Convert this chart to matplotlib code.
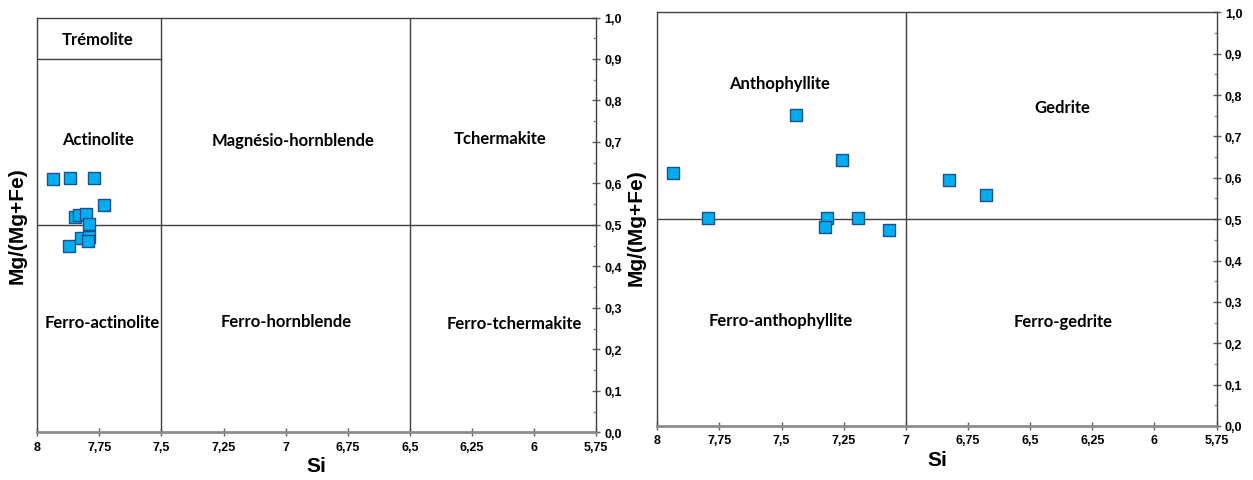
import matplotlib
matplotlib.use('Agg')
import matplotlib.pyplot as plt
from matplotlib.ticker import FixedLocator, MultipleLocator, FuncFormatter

# calcic amphiboles (left diagram)
ca_si = [7.937, 7.867, 7.772, 7.731, 7.849, 7.832, 7.803, 7.793, 7.874, 7.825, 7.792, 7.795]
ca_mg = [0.611, 0.614, 0.612, 0.547, 0.520, 0.524, 0.526, 0.502, 0.450, 0.468, 0.470, 0.462]

# Fe-Mg amphiboles (right diagram)
femg_si = [7.938, 7.443, 7.795, 7.258, 7.316, 7.324, 7.194, 7.066, 6.826, 6.677]
femg_mg = [0.612, 0.752, 0.503, 0.644, 0.502, 0.480, 0.503, 0.474, 0.595, 0.558]

x_ticks = [8, 7.75, 7.5, 7.25, 7, 6.75, 6.5, 6.25, 6, 5.75]

ca_fields = [('Trémolite', 7.756, 0.948), ('Actinolite', 7.756, 0.707),
             ('Magnésio-hornblende', 6.970, 0.704), ('Tchermakite', 6.137, 0.709),
             ('Ferro-actinolite', 7.739, 0.266), ('Ferro-hornblende', 6.998, 0.268),
             ('Ferro-tchermakite', 6.077, 0.263)]
femg_fields = [('Anthophyllite', 7.510, 0.829), ('Gedrite', 6.371, 0.771),
               ('Ferro-anthophyllite', 7.502, 0.256), ('Ferro-gedrite', 6.367, 0.254)]

LINE = '#404040'
TICKFONT = dict(family=['Liberation Sans Narrow', 'Liberation Sans', 'DejaVu Sans'],
                weight='bold', size=9)


def comma(v, pos=None):
    s = f"{v:.2f}".rstrip('0').rstrip('.')
    return s.replace('.', ',')


def setup_axes(ax):
    ax.set_xlim(8, 5.75)
    ax.set_ylim(0, 1)
    ax.xaxis.set_major_locator(FixedLocator(x_ticks))
    ax.xaxis.set_major_formatter(FuncFormatter(comma))
    ax.yaxis.set_major_locator(MultipleLocator(0.1))
    ax.yaxis.set_minor_locator(MultipleLocator(0.05))
    ax.yaxis.set_major_formatter(FuncFormatter(lambda v, p: f"{v:.1f}".replace('.', ',')))
    ax.yaxis.tick_right()
    ax.tick_params(axis='both', which='major', direction='inout', length=6,
                   width=1, color='#606060', pad=3)
    ax.tick_params(axis='y', which='minor', direction='in', length=2.5,
                   width=1, color='#909090')
    for lab in ax.get_xticklabels() + ax.get_yticklabels():
        lab.set(**TICKFONT)
    for side in ['top', 'left', 'right']:
        ax.spines[side].set_color(LINE)
        ax.spines[side].set_linewidth(1)
    ax.spines['bottom'].set_color('#8c8c8c')
    ax.spines['bottom'].set_linewidth(2)
    ax.set_xlabel('Si', fontsize=15, family='Liberation Sans', weight='bold')
    ax.xaxis.set_label_coords(0.5, -0.058)


def draw_fields(ax, fields):
    for name, x, y in fields:
        ax.text(x, y, name, ha='center', va='center', fontsize=12,
                family=['Lato', 'DejaVu Sans'], weight='bold')


def draw_points(ax, xs, ys):
    ax.scatter(xs, ys, marker='s', s=72, facecolor='#00AEEF',
               edgecolor='#1F4E8C', linewidth=1, zorder=5)


def main():
    fig = plt.figure(figsize=(12.53, 4.81), dpi=100)
    W, H = 1253, 481

    ax1 = fig.add_axes([37.3 / W, 1 - 433.3 / H, (596 - 37.3) / W, (433.3 - 18.5) / H])
    ax2 = fig.add_axes([657.3 / W, 1 - 427 / H, (1216.5 - 657.3) / W, (427 - 13.3) / H])

    # calcic amphibole fields
    setup_axes(ax1)
    ax1.axvline(7.5, color=LINE, lw=1)
    ax1.axvline(6.5, color=LINE, lw=1)
    ax1.axhline(0.5, color=LINE, lw=1)
    ax1.plot([8, 7.5], [0.9, 0.9], color=LINE, lw=1)
    draw_fields(ax1, ca_fields)
    draw_points(ax1, ca_si, ca_mg)

    # Fe-Mg amphibole fields
    setup_axes(ax2)
    ax2.axvline(7, color=LINE, lw=1)
    ax2.axhline(0.5, color=LINE, lw=1)
    draw_fields(ax2, femg_fields)
    draw_points(ax2, femg_si, femg_mg)

    ylab = dict(rotation=90, ha='center', va='center', fontsize=15,
                family='Liberation Sans', weight='bold')
    fig.text(17 / W, 1 - 226 / H, 'Mg/(Mg+Fe)', **ylab)
    fig.text(636 / W, 1 - 228 / H, 'Mg/(Mg+Fe)', **ylab)

    fig.savefig('out.png', dpi=100)


if __name__ == '__main__':
    main()
